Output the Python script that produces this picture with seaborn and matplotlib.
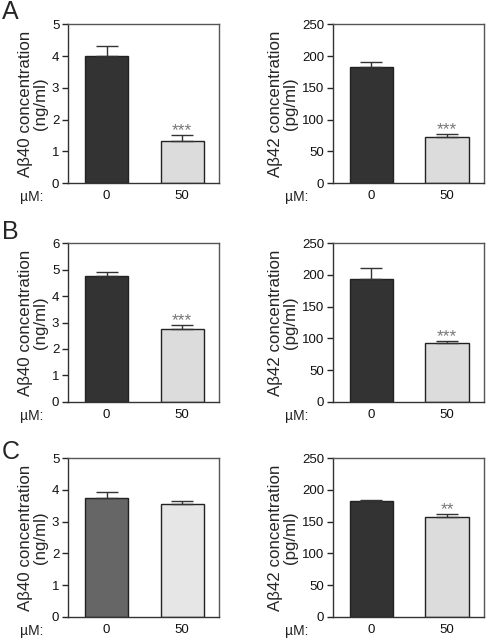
import matplotlib
matplotlib.use('Agg')
import pandas as pd
import seaborn as sns
import matplotlib.pyplot as plt

sns.set_style('white')
plt.rcParams['font.family'] = ['Liberation Sans', 'DejaVu Sans']

# doses (x categories)
doses = ['0', '50']

# panel values: means and upper SEM
a40_mean = [4.0, 1.32]
a40_err = [0.30, 0.18]
a42_mean = [182, 72]
a42_err = [9, 5]

b40_mean = [4.77, 2.76]
b40_err = [0.13, 0.13]
b42_mean = [194, 93.5]
b42_err = [16, 2]

c40_mean = [3.74, 3.56]
c40_err = [0.20, 0.09]
c42_mean = [182, 158]
c42_err = [2, 4]

# significance marks
a_stars = ['', '***']
b_stars = ['', '***']
c40_stars = ['', '']
c42_stars = ['', '**']

panels = [
    # (mean, err, stars, ymax, yticks, ylabel, colors, pos)
    (a40_mean, a40_err, a_stars, 5, range(0, 6), 'A\u03b240 concentration\n(ng/ml)', ['#333333', '#dcdcdc'], (0.140, 0.713)),
    (a42_mean, a42_err, a_stars, 250, range(0, 251, 50), 'A\u03b242 concentration\n(pg/ml)', ['#333333', '#dcdcdc'], (0.685, 0.713)),
    (b40_mean, b40_err, b_stars, 6, range(0, 7), 'A\u03b240 concentration\n(ng/ml)', ['#333333', '#dcdcdc'], (0.140, 0.370)),
    (b42_mean, b42_err, b_stars, 250, range(0, 251, 50), 'A\u03b242 concentration\n(pg/ml)', ['#333333', '#dcdcdc'], (0.685, 0.370)),
    (c40_mean, c40_err, c40_stars, 5, range(0, 6), 'A\u03b240 concentration\n(ng/ml)', ['#666666', '#e6e6e6'], (0.140, 0.033)),
    (c42_mean, c42_err, c42_stars, 250, range(0, 251, 50), 'A\u03b242 concentration\n(pg/ml)', ['#333333', '#dcdcdc'], (0.685, 0.033)),
]

fig = plt.figure(figsize=(4.86, 6.38), dpi=100)

for mean, err, stars, ymax, yticks, ylabel, colors, pos in panels:
    ax = fig.add_axes([pos[0], pos[1], 0.311, 0.249])
    df = pd.DataFrame({'dose': doses, 'value': mean})
    sns.barplot(data=df, x='dose', y='value', hue='dose', palette=colors,
                width=0.57, edgecolor='#222222', linewidth=1.0, legend=False, ax=ax)
    # one-sided error bars
    ax.errorbar(range(len(doses)), mean, yerr=[[0] * len(err), err], fmt='none',
                ecolor='#333333', elinewidth=1.0, capsize=8, capthick=1.0)
    for i, s in enumerate(stars):
        if s:
            ax.text(i, mean[i] + err[i], s, ha='center', va='baseline',
                    color='#777777', fontsize=12.5)
    ax.set_xlim(-0.51, 1.49)
    ax.set_ylim(0, ymax)
    ax.set_yticks(list(yticks))
    ax.set_xlabel('')
    ax.set_ylabel(ylabel, fontsize=12.2, linespacing=0.95, labelpad=3)
    ax.tick_params(axis='y', direction='out', length=4.3, width=1, labelsize=9.5, pad=2,
                   left=True, labelcolor='#111111')
    ax.tick_params(axis='x', length=0, labelsize=9.5, pad=5, labelcolor='#111111')
    for side in ['left', 'bottom']:
        ax.spines[side].set_color('#333333')
        ax.spines[side].set_linewidth(1.0)
    for side in ['top', 'right']:
        ax.spines[side].set_color('#555555')
        ax.spines[side].set_linewidth(1.0)
    ax.annotate('\u00b5M:', xy=(-0.165, 0), xycoords='axes fraction',
                xytext=(0, -5), textcoords='offset points', ha='right', va='top',
                fontsize=10, color='#222222')

# panel letters
fig.text(2 / 486, 1 - 12 / 638, 'A', fontsize=18, ha='left', va='center')
fig.text(2 / 486, 1 - 232 / 638, 'B', fontsize=18, ha='left', va='center')
fig.text(2 / 486, 1 - 452 / 638, 'C', fontsize=18, ha='left', va='center')

fig.savefig('out.png', dpi=100)
